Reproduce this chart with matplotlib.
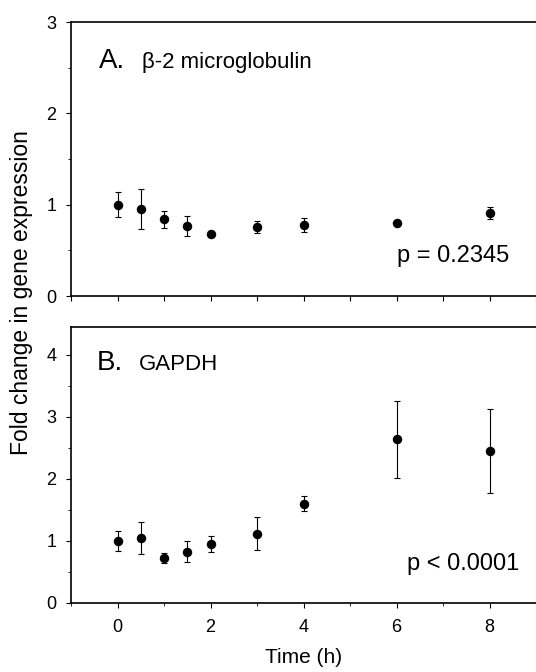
import matplotlib
matplotlib.use('Agg')
import matplotlib.pyplot as plt
from matplotlib.ticker import MultipleLocator
import numpy as np

plt.rcParams['font.family'] = ['Liberation Sans', 'DejaVu Sans']

time_h = [0, 0.5, 1, 1.5, 2, 3, 4, 6, 8]

# beta-2 microglobulin
b2m_mean = [1.00, 0.95, 0.84, 0.77, 0.68, 0.755, 0.775, 0.795, 0.91]
b2m_err = [0.14, 0.22, 0.09, 0.11, 0.03, 0.07, 0.075, 0.02, 0.07]

# GAPDH
gapdh_mean = [1.00, 1.05, 0.73, 0.83, 0.95, 1.12, 1.60, 2.64, 2.45]
gapdh_err = [0.16, 0.26, 0.08, 0.17, 0.13, 0.27, 0.12, 0.62, 0.68]

fig = plt.figure(figsize=(5.36, 6.72), dpi=100)
axA = fig.add_axes([0.1325, 0.5595, 0.8675, 0.4077])
axB = fig.add_axes([0.1325, 0.1027, 0.8675, 0.4107])


def style_axis(ax, ymax):
    ax.set_xlim(-1, 9)
    ax.set_ylim(0, ymax)
    ax.spines['right'].set_visible(False)
    for s in ['left', 'top', 'bottom']:
        ax.spines[s].set_linewidth(1.2)
    ax.yaxis.set_major_locator(MultipleLocator(1))
    ax.yaxis.set_minor_locator(MultipleLocator(0.5))
    ax.tick_params(axis='both', which='major', direction='out', length=3.5, width=0.8,
                   labelsize=13, top=False, right=False)
    ax.tick_params(axis='both', which='minor', direction='out', length=2.5, width=0.6,
                   top=False, right=False)
    ax.tick_params(axis='y', pad=7)


def draw(ax, mean, err):
    ax.errorbar(time_h, mean, yerr=err, fmt='o', color='black', ms=5.8,
                ecolor='black', elinewidth=0.8, capsize=2.5, capthick=0.8)


draw(axA, b2m_mean, b2m_err)
style_axis(axA, 3)
axA.xaxis.set_major_locator(MultipleLocator(1))
axA.tick_params(axis='x', labelbottom=False)
axA.text(0.060, 0.832, 'A.', transform=axA.transAxes, fontsize=20, va='baseline')
axA.text(0.153, 0.832, 'β-2 microglobulin', transform=axA.transAxes, fontsize=16, va='baseline')
axA.text(0.701, 0.124, 'p = 0.2345', transform=axA.transAxes, fontsize=17, va='baseline')

draw(axB, gapdh_mean, gapdh_err)
style_axis(axB, 4.45)
axB.set_yticks([0, 1, 2, 3, 4])
axB.xaxis.set_major_locator(MultipleLocator(2))
axB.xaxis.set_minor_locator(MultipleLocator(1))
axB.tick_params(axis='x', pad=8)
axB.text(0.056, 0.844, 'B.', transform=axB.transAxes, fontsize=20, va='baseline')
axB.text(0.146, 0.844, 'GAPDH', transform=axB.transAxes, fontsize=16, va='baseline')
axB.text(0.723, 0.120, 'p < 0.0001', transform=axB.transAxes, fontsize=17, va='baseline')
axB.set_xlabel('Time (h)', fontsize=15, labelpad=9)

fig.text(0.041, 0.565, 'Fold change in gene expression', rotation=90,
         fontsize=16.5, ha='center', va='center')

fig.savefig('out.png', dpi=100)
